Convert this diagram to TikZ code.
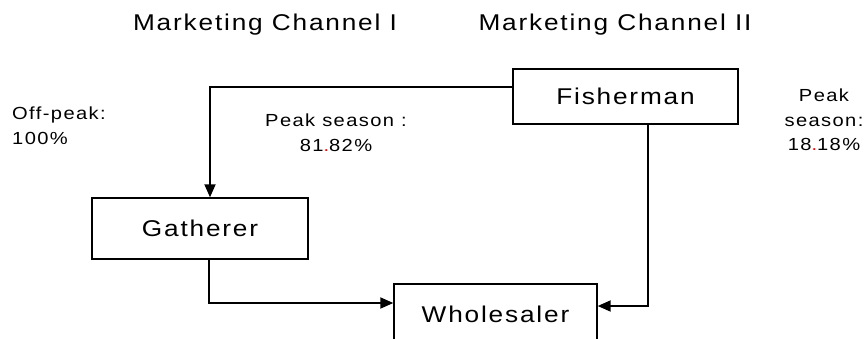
\documentclass[tikz,border=0pt]{standalone}
\usepackage{fontspec}
\setmainfont{Liberation Sans}[LetterSpace=8,FakeStretch=1.15]
\usetikzlibrary{arrows.meta}
\begin{document}
\begin{tikzpicture}[x=1pt,y=-1pt,
  box/.style={draw,line width=1.4pt,inner sep=0pt,font=\fontsize{22.8}{27}\selectfont},
  title/.style={inner sep=0pt,anchor=base,font=\fontsize{22.8}{27}\selectfont},
  lab/.style={inner sep=0pt,font=\fontsize{17.5}{24.5}\selectfont},
  conn/.style={line width=1.9pt},
  arr/.style={conn,-{Triangle[length=13pt,width=11pt]}}]
\useasboundingbox (0,0) rectangle (867,338);
\clip (0,0) rectangle (867,338);
\node[title] (t1) at (265,30) {Marketing Channel I};
\node[title] (t2) at (615,30) {Marketing Channel II};
\node[box,minimum width=225pt,minimum height=55pt] (fish) at (625.5,96.5) {Fisherman};
\node[box,minimum width=216pt,minimum height=61pt] (gath) at (200,228.5) {Gatherer};
\node[box,minimum width=203pt,minimum height=60pt] (whole) at (495.5,314) {Wholesaler};
\node[lab,anchor=north west,align=left] (off) at (12,107) {Off-peak:\\100\%};
\node[lab,anchor=north,align=center] (pk1) at (336,114) {Peak season :\\81{\color{red}.}82\%};
\node[lab,anchor=north,align=center] (pk2) at (824,89) {Peak\\season:\\18{\color{red}.}18\%};
\coordinate (c1) at (210,87);
\coordinate (c2) at (209,303);
\coordinate (c3) at (648,306);
\draw[arr] (c1 -| fish.west) -- (c1) -- (c1 |- gath.north);
\draw[arr] (c2 |- gath.south) -- (c2) -- (c2 -| whole.west);
\draw[arr] (c3 |- fish.south) -- (c3) -- (c3 -| whole.east);
\end{tikzpicture}
\end{document}
